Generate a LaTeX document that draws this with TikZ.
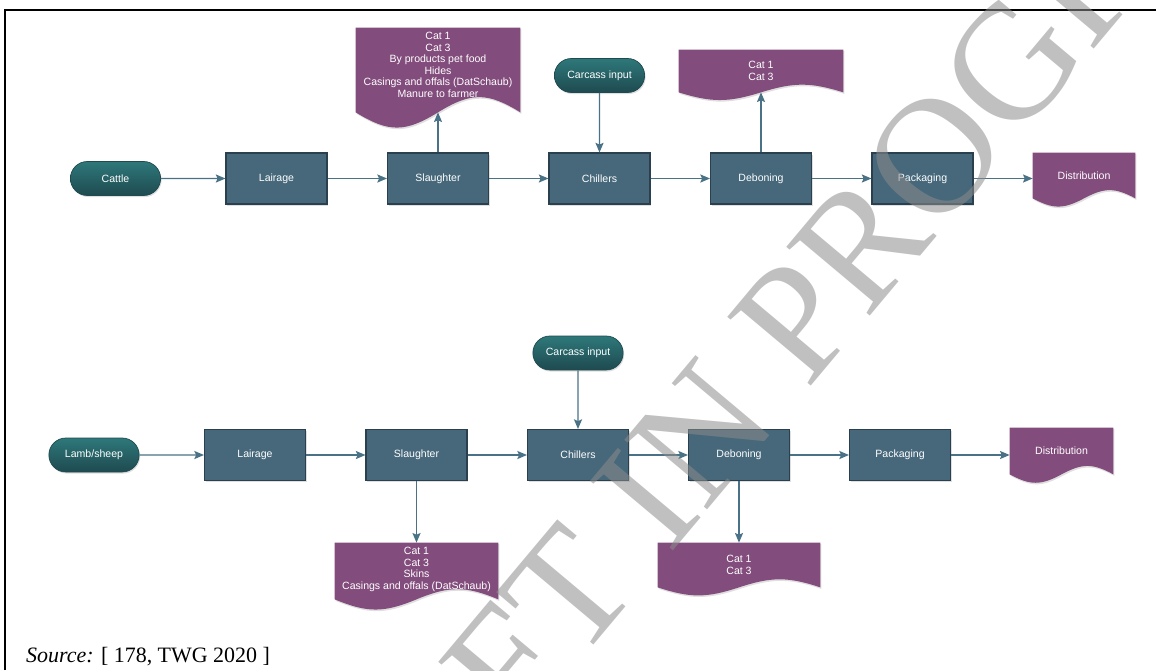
\documentclass[tikz,border=0pt]{standalone}
\usepackage{fontspec}
\setmainfont{Liberation Serif}
\newfontfamily\flowfont{Liberation Sans}
\usetikzlibrary{arrows.meta,shapes.misc,shadows,backgrounds,calc}

\definecolor{boxblue}{RGB}{70,104,122}
\definecolor{boxedge}{RGB}{42,64,78}
\definecolor{termtop}{RGB}{46,120,122}
\definecolor{termbot}{RGB}{30,74,80}
\definecolor{docpurple}{RGB}{130,76,124}
\definecolor{arrowc}{RGB}{74,114,134}

\tikzset{
  lbl/.style={text=white, align=center, font=\flowfont\fontsize{6}{6.6}\selectfont},
  proc/.style={lbl, rectangle, fill=boxblue, draw=boxedge, line width=0.6pt,
    minimum width=2.02cm, minimum height=1.02cm,
    drop shadow={opacity=0.25, shadow xshift=0.6pt, shadow yshift=-0.9pt}},
  term/.style={lbl, rounded rectangle, top color=termtop, bottom color=termbot,
    draw=termbot, line width=0.4pt, minimum width=2.04cm, minimum height=0.68cm,
    drop shadow={opacity=0.25, shadow xshift=0.6pt, shadow yshift=-0.9pt}},
  doc/.style={lbl, rectangle, inner sep=1pt},
  flow/.style={draw=arrowc, line width=0.75pt, -{Stealth[length=5.5pt,width=4.6pt,inset=1pt]}},
  frame/.style={line width=1.1pt, black},
  wmark/.style={text=black!45, text opacity=0.55, inner sep=0pt, font=\fontsize{94}{94}\selectfont},
}

\newcommand{\docwave}[1]{%
  \fill[docpurple, drop shadow={opacity=0.25, shadow xshift=0.6pt, shadow yshift=-0.9pt}]
    let \p1=(#1.north west), \p2=(#1.south east),
        \n1={0.24*(\y1-\y2)}, \n2={\x2-\x1}, \n3={(\x1+\x2)/2} in
    (\x1,\y1) -- (\x2,\y1) -- (\x2,\y2)
    .. controls ({\x2-0.2*\n2},{\y2+\n1}) and ({\n3+0.2*\n2},{\y2+\n1}) .. (\n3,\y2)
    .. controls ({\n3-0.2*\n2},{\y2-\n1}) and ({\x1+0.2*\n2},{\y2-\n1}) .. (\x1,\y2)
    -- cycle;}

\begin{document}
\begin{tikzpicture}[x=0.02cm, y=-0.02cm]
\useasboundingbox (0,0) rectangle (1156,670);
\draw[frame] (5,670) -- (5,10) -- (1156,10);

\node[term](cattle) at (115.5,178.5){Cattle};
\node[proc](lair1) at (276.5,178.5){Lairage};
\node[proc](slau1) at (438,178.5){Slaughter};
\node[proc](chil1) at (599.5,178.5){Chillers};
\node[proc](debo1) at (761,178.5){Deboning};
\node[proc](pack1) at (922.5,178.5){Packaging};
\node[doc, minimum width=2.04cm, minimum height=0.9cm](dist1) at (1084,175.5){Distribution};
\node[term](carc1) at (599.5,75.5){Carcass input};
\node[doc, minimum width=3.28cm, minimum height=1.68cm, text depth=6pt](wast1) at (438,70){Cat 1\\Cat 3\\By products pet food\\Hides\\Casings and offals (DatSchaub)\\Manure to farmer};
\node[doc, minimum width=3.28cm, minimum height=0.84cm](cut1) at (761,71){Cat 1\\Cat 3};

\node[term](lamb) at (94,455){Lamb/sheep};
\node[proc](lair2) at (255,455){Lairage};
\node[proc](slau2) at (416.5,455){Slaughter};
\node[proc](chil2) at (578,455){Chillers};
\node[proc](debo2) at (739,455){Deboning};
\node[proc](pack2) at (900,455){Packaging};
\node[doc, minimum width=2.06cm, minimum height=0.92cm](dist2) at (1061.5,451){Distribution};
\node[term](carc2) at (578,353){Carcass input};
\node[doc, minimum width=3.26cm, minimum height=1.12cm, text depth=3pt](wast2) at (416.5,571){Cat 1\\Cat 3\\Skins\\Casings and offals (DatSchaub)};
\node[doc, minimum width=3.24cm, minimum height=0.88cm](cut2) at (739,565){Cat 1\\Cat 3};

\begin{scope}[on background layer]
\docwave{dist1}
\docwave{wast1}
\docwave{cut1}
\docwave{dist2}
\docwave{wast2}
\docwave{cut2}
\end{scope}

\draw[flow] (cattle) -- (lair1);
\draw[flow] (lair1) -- (slau1);
\draw[flow] (slau1) -- (chil1);
\draw[flow] (chil1) -- (debo1);
\draw[flow] (debo1) -- (pack1);
\draw[flow] (pack1) -- (dist1.west |- pack1);
\draw[flow] (carc1) -- (chil1);
\draw[flow] (slau1) -- (wast1);
\draw[flow] (debo1) -- (cut1);

\draw[flow] (lamb) -- (lair2);
\draw[flow] (lair2) -- (slau2);
\draw[flow] (slau2) -- (chil2);
\draw[flow] (chil2) -- (debo2);
\draw[flow] (debo2) -- (pack2);
\draw[flow] (pack2) -- (dist2.west |- pack2);
\draw[flow] (carc2) -- (chil2);
\draw[flow] (slau2) -- (wast2);
\draw[flow] (debo2) -- (cut2);

\node[anchor=base west, font=\fontsize{12.5}{14}\selectfont](src) at (20,662){\textit{Source:} [ 178, TWG 2020 ]};

\begin{scope}
\clip (0,0) rectangle (1156,670);
\node[wmark, anchor=base west, rotate=50](draft) at (669,556){\llap{WORKING DRAFT }IN PROGRESS};
\end{scope}
\end{tikzpicture}
\end{document}
